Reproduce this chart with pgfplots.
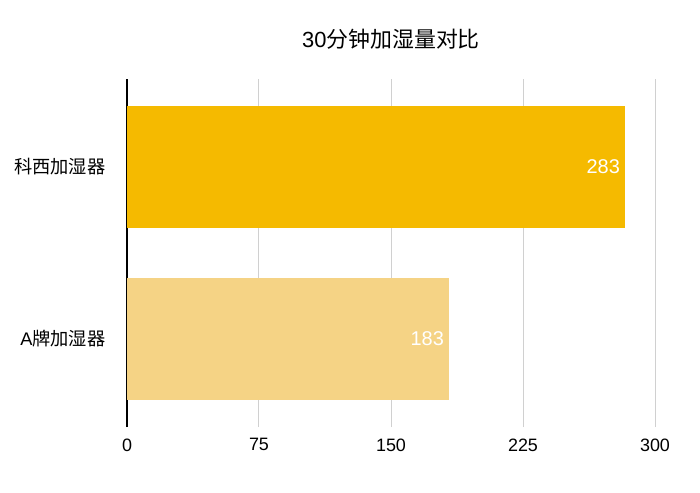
\documentclass[border=0pt]{standalone}
\usepackage{pgfplots}
\pgfplotsset{compat=1.18}
\usepackage{fontspec}
\setmainfont{Liberation Sans}
\newfontfamily\cjk{Noto Sans CJK SC}
\definecolor{barA}{RGB}{245,186,0}
\definecolor{barB}{RGB}{245,211,133}
\definecolor{gridc}{RGB}{208,208,208}
\begin{document}
\begin{tikzpicture}
\begin{axis}[
 name=ax,
 scale only axis, width=528bp, height=348bp,
 xbar, bar width=122bp, bar shift=0pt,
 xmin=0, xmax=300, ymin=-0.512, ymax=1.512,
 xtick={0,75,150,225,300}, ytick={0,1},
 yticklabels={A{\cjk 牌加湿器},{\cjk 科西加湿器}},
 axis lines=left,
 x axis line style={draw=none},
 y axis line style={black, line width=1.6bp, -},
 xmajorgrids, major grid style={gridc, line width=1bp},
 tick style={draw=none},
 /pgf/number format/assume math mode=true,
 xticklabel style={font=\fontsize{18}{18}\selectfont, yshift=-6bp},
 yticklabel style={font=\fontsize{18.3}{18}\selectfont, xshift=-16bp},
 title={30{\cjk 分钟加湿量对比}},
 title style={font=\fontsize{22}{22}\selectfont, at={(0.5,1)}, anchor=center, yshift=34bp},
 nodes near coords,
 nodes near coords style={white, anchor=east, inner sep=0pt, xshift=-5bp, font=\fontsize{20}{20}\selectfont},
]
\addplot[fill=barB, draw=none] coordinates {(183,0)};
\addplot[fill=barA, draw=none] coordinates {(283,1)};
\end{axis}
\pgfresetboundingbox
\path[use as bounding box] ([xshift=-127bp,yshift=-66bp]ax.south west) rectangle ([xshift=45bp,yshift=79bp]ax.north east);
\end{tikzpicture}
\end{document}
